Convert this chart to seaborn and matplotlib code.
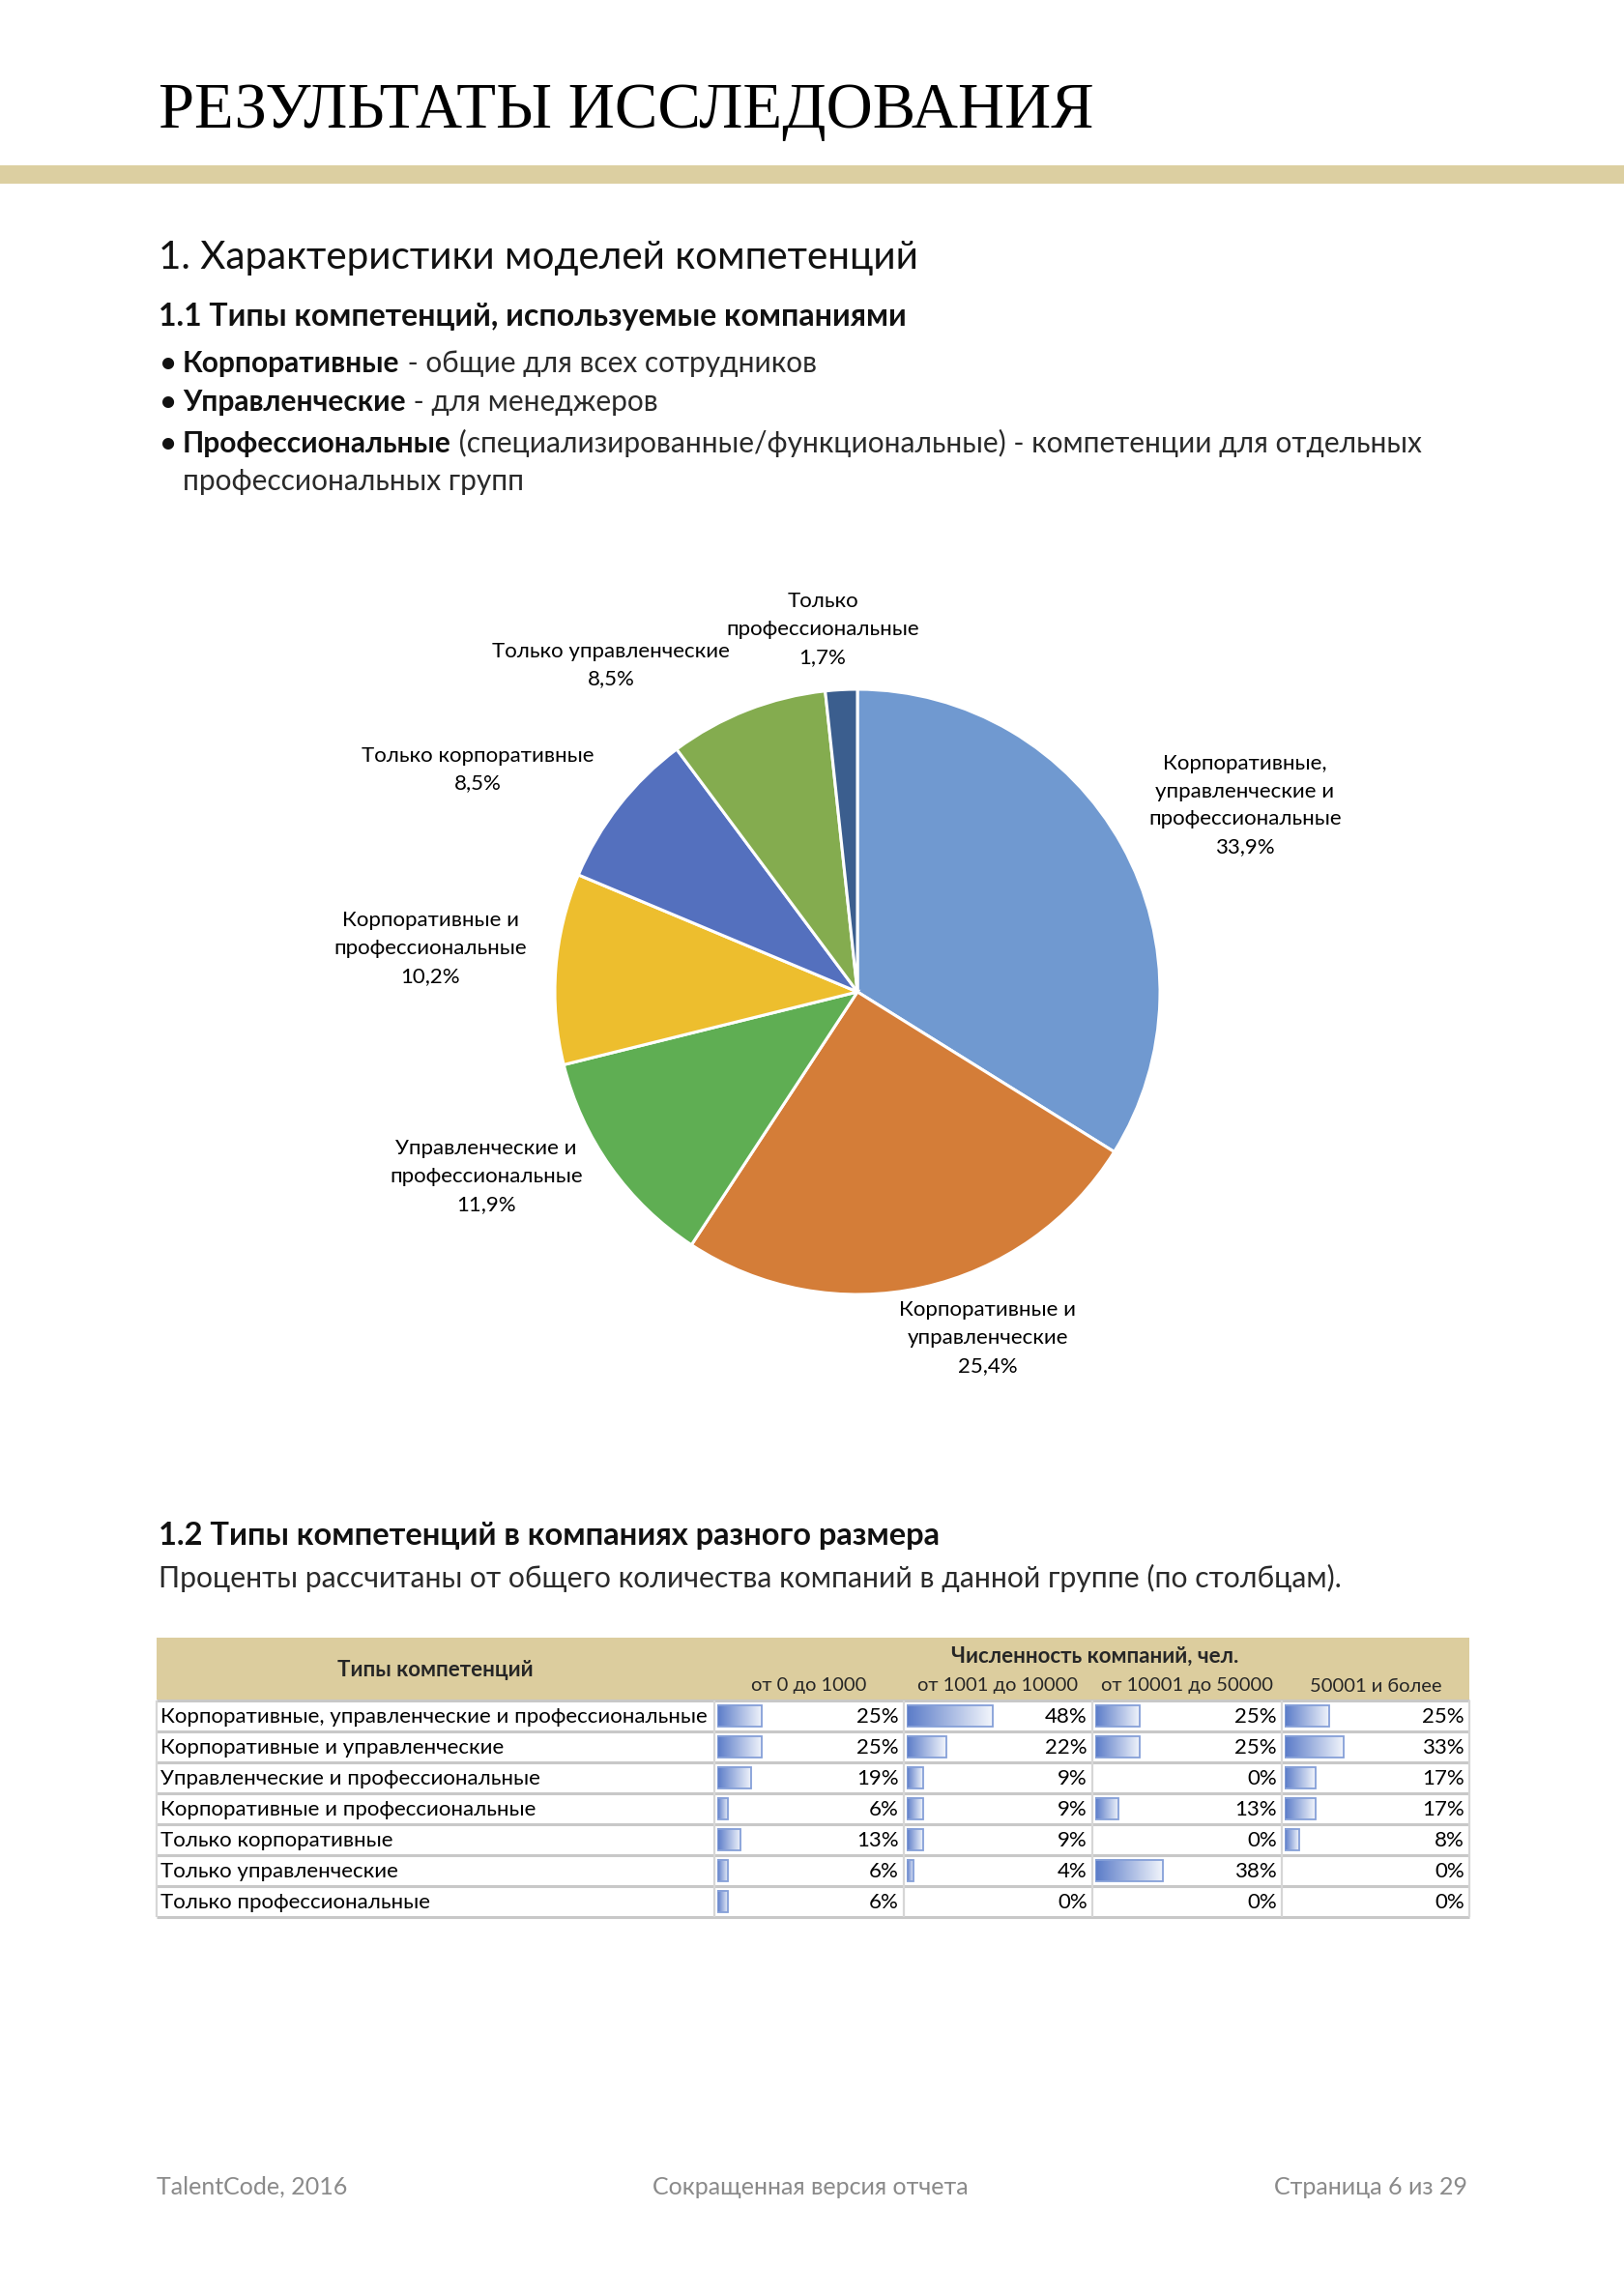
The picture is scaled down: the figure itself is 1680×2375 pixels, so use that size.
import numpy as np
import pandas as pd
import matplotlib
matplotlib.use("Agg")
import matplotlib.pyplot as plt
import seaborn as sns
from matplotlib.colors import LinearSegmentedColormap
from matplotlib.patches import Rectangle

# ---------------- data ----------------
pie_labels = [
    "Корпоративные,\nуправленческие и\nпрофессиональные",
    "Корпоративные и\nуправленческие",
    "Управленческие и\nпрофессиональные",
    "Корпоративные и\nпрофессиональные",
    "Только корпоративные",
    "Только управленческие",
    "Только\nпрофессиональные",
]
pie_values = [33.9, 25.4, 11.9, 10.2, 8.5, 8.5, 1.7]
pie_colors = ["#7099D0", "#D47D38", "#5FAE53", "#EDBE2E", "#5470BE", "#84AC4F", "#3B5E8E"]

table_rows = [
    "Корпоративные, управленческие и профессиональные",
    "Корпоративные и управленческие",
    "Управленческие и профессиональные",
    "Корпоративные и профессиональные",
    "Только корпоративные",
    "Только управленческие",
    "Только профессиональные",
]
size_groups = ["от 0 до 1000", "от 1001 до 10000", "от 10001 до 50000", "50001 и более"]
share_0_1000 = [25, 25, 19, 6, 13, 6, 6]
share_1001_10000 = [48, 22, 9, 9, 9, 4, 0]
share_10001_50000 = [25, 25, 0, 13, 0, 38, 0]
share_50001_plus = [25, 33, 17, 17, 8, 0, 0]
table_columns = [share_0_1000, share_1001_10000, share_10001_50000, share_50001_plus]

page_title = "РЕЗУЛЬТАТЫ ИССЛЕДОВАНИЯ"
heading_1 = "1. Характеристики моделей компетенций"
heading_11 = "1.1 Типы компетенций, используемые компаниями"
bullets = [
    ("Корпоративные", " - общие для всех сотрудников"),
    ("Управленческие", " - для менеджеров"),
    ("Профессиональные", " (специализированные/функциональные) - компетенции для отдельных"),
]
bullet_cont = "профессиональных групп"
heading_12 = "1.2 Типы компетенций в компаниях разного размера"
subtitle_12 = "Проценты рассчитаны от общего количества компаний в данной группе (по столбцам)."
table_head_left = "Типы компетенций"
table_head_top = "Численность компаний, чел."
footer = ["TalentCode, 2016", "Сокращенная версия отчета", "Страница 6 из 29"]

# ---------------- style ----------------
sns.set_theme(style="white")
plt.rcParams["font.family"] = ["Lato", "DejaVu Sans"]

W, H = 1680, 2375
fig = plt.figure(figsize=(W / 100, H / 100), dpi=100)
fig.patch.set_facecolor("white")

pg = fig.add_axes([0, 0, 1, 1])
pg.set_xlim(0, W)
pg.set_ylim(H, 0)
pg.axis("off")
pg.set_zorder(0)

# ---------------- header ----------------
pg.text(164, 132, page_title, family=["Liberation Serif"], fontsize=48,
        va="baseline", ha="left", color="black")
pg.add_patch(Rectangle((0, 171), W, 19, color="#DCCFA1", lw=0))

pg.text(164, 278, heading_1, fontsize=29.1, va="baseline", color="#111111")
pg.text(164, 337, heading_11, fontsize=23, fontweight="bold", va="baseline", color="#111111")

fig.canvas.draw()
renderer = fig.canvas.get_renderer()
inv = pg.transData.inverted()

body_fs = 21.5
bullet_y = [385, 425, 468]
for (b, rest), y in zip(bullets, bullet_y):
    pg.text(166, y, "•", fontsize=20, fontweight="bold", va="baseline", color="#111111")
    t1 = pg.text(189, y, b, fontsize=body_fs, fontweight="bold", va="baseline", color="#111111")
    ext = t1.get_window_extent(renderer)
    x_end = inv.transform((ext.x1, ext.y0))[0]
    pg.text(x_end, y, rest, fontsize=body_fs, va="baseline", color="#2A2A2A")
pg.text(189, 507, bullet_cont, fontsize=body_fs, va="baseline", color="#2A2A2A")

# ---------------- pie ----------------
cx, cy, r = 887, 1026, 313
pax = fig.add_axes([(cx - r) / W, (H - cy - r) / H, 2 * r / W, 2 * r / H])
pax.pie(pie_values, colors=pie_colors, startangle=90, counterclock=False,
        wedgeprops=dict(edgecolor="white", linewidth=2.2))
pax.set_xlim(-1.0, 1.0)
pax.set_ylim(-1.0, 1.0)
pax.set_aspect("auto")
pax.axis("off")

label_xy = [(1288, 833), (1022, 1384), (503, 1217), (445, 981), (494, 796), (632, 688), (851, 651)]
for lab, val, (lx, ly) in zip(pie_labels, pie_values, label_xy):
    txt = f"{lab}\n{val:.1f}%".replace(".", ",")
    pg.text(lx, ly, txt, fontsize=16, ha="center", va="center", linespacing=1.55,
            color="black", multialignment="center")

# ---------------- section 1.2 ----------------
pg.text(164, 1598, heading_12, fontsize=23.5, fontweight="bold", va="baseline", color="#111111")
pg.text(164, 1642, subtitle_12, fontsize=21.7, va="baseline", color="#2A2A2A")

# ---------------- table ----------------
tl, tr = 162, 1520
col_edges = [162, 739, 935, 1130, 1326, 1520]
head_top, head_bot = 1694, 1758
row_top = 1759
row_h = 32
n = len(table_rows)
body_bot = row_top + n * row_h
tfs = 16

pg.add_patch(Rectangle((tl, head_top), tr - tl, head_bot - head_top, color="#DCCD9E", lw=0))
pg.text((col_edges[0] + col_edges[1]) / 2, 1727, table_head_left, fontsize=tfs,
        fontweight="bold", ha="center", va="center")
pg.text(1133, 1713, table_head_top, fontsize=tfs, fontweight="bold", ha="center", va="center")
for j, g in enumerate(size_groups):
    pg.text((col_edges[j + 1] + col_edges[j + 2]) / 2, 1744, g, fontsize=14.5,
            ha="center", va="center")

for i in range(n + 1):
    pg.plot([tl, tr], [row_top + i * row_h] * 2, color="#C8C8C8", lw=2.2,
            solid_capstyle="butt")
for x in col_edges:
    pg.plot([x, x], [row_top, body_bot], color="#D6D6D6", lw=1.6, solid_capstyle="butt")

for i, name in enumerate(table_rows):
    pg.text(166, row_top + (i + 0.5) * row_h + 1, name, fontsize=tfs, ha="left",
            va="center", color="black")
for j, vals in enumerate(table_columns):
    for i, v in enumerate(vals):
        pg.text(col_edges[j + 2] - 5, row_top + (i + 0.5) * row_h + 1, f"{v}%",
                fontsize=tfs, ha="right", va="center", color="black")

# data bars drawn with seaborn
px_per_pct = 89 / 48
cmap = LinearSegmentedColormap.from_list("databar", ["#5A7BC8", "#F3F6FC"])
grad = np.linspace(0, 1, 256).reshape(1, -1)
for j, vals in enumerate(table_columns):
    left = col_edges[j + 1] + 3
    right = col_edges[j + 2] - 2
    bax = fig.add_axes([left / W, (H - body_bot) / H, (right - left) / W, (body_bot - row_top) / H])
    bax.patch.set_alpha(0)
    df = pd.DataFrame({"row": table_rows, "share": vals})
    sns.barplot(data=df, x="share", y="row", orient="h", ax=bax, width=0.7,
                color="#5A7BC8", saturation=1)
    for p in list(bax.patches):
        x0, y0, w, h = p.get_x(), p.get_y(), p.get_width(), p.get_height()
        if w <= 0:
            p.set_visible(False)
            continue
        bax.imshow(grad, extent=[x0, x0 + w, y0 + h, y0], aspect="auto", cmap=cmap,
                   zorder=p.get_zorder() - 0.1, interpolation="bilinear")
        p.set_facecolor("none")
        p.set_edgecolor("#86A0D8")
        p.set_linewidth(1.3)
    bax.set_xlim(0, (right - left) / px_per_pct)
    bax.set_ylim(n - 0.5, -0.5)
    bax.axis("off")

# ---------------- footer ----------------
fy = 2262
fcol = "#8A8A8A"
pg.text(162, fy, footer[0], fontsize=18, color=fcol, ha="left", va="center")
pg.text(838, fy, footer[1], fontsize=18, color=fcol, ha="center", va="center")
pg.text(1518, fy, footer[2], fontsize=18, color=fcol, ha="right", va="center")

fig.savefig("out.png", dpi=100, facecolor="white")
